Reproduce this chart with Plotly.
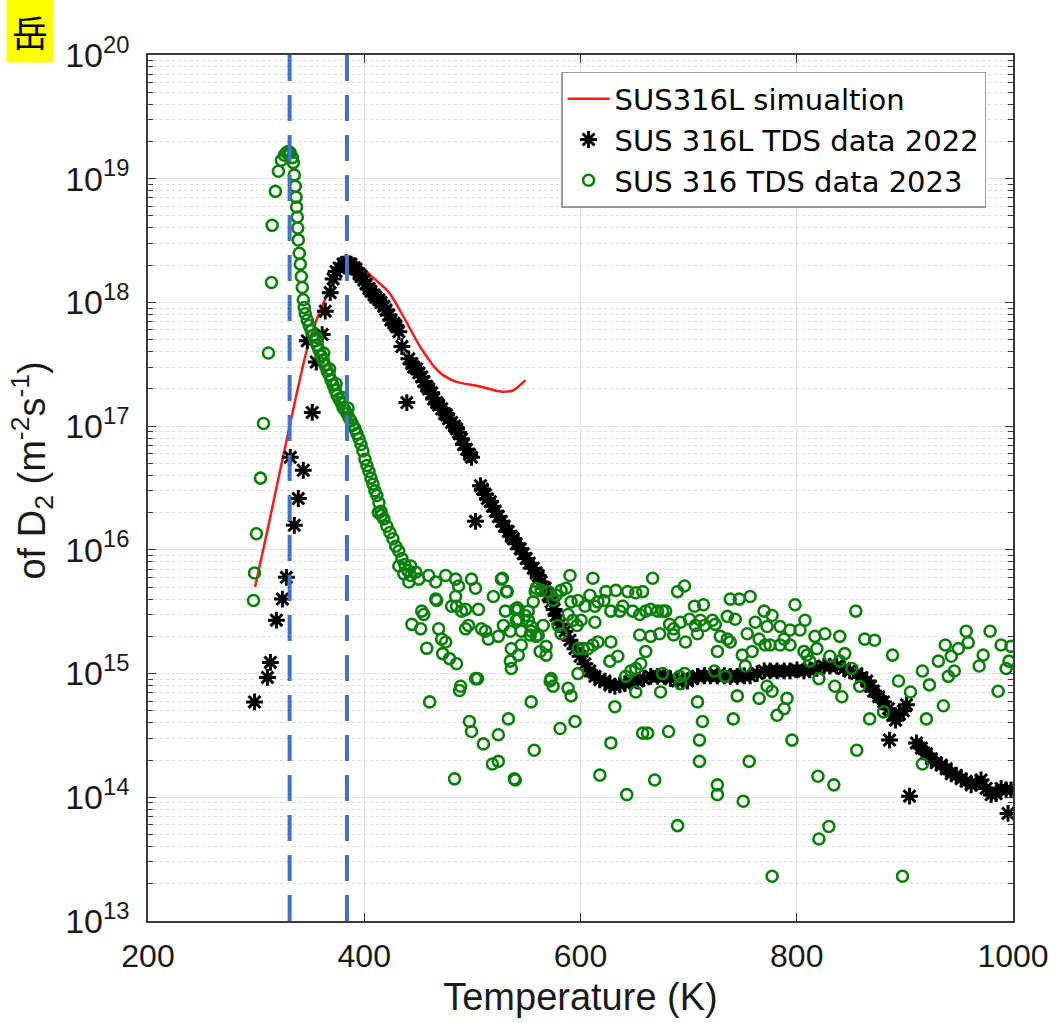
import plotly.graph_objects as go

# ---- simulation curve (K, m^-2 s^-1) ----
sim_T = [299, 312, 331, 349, 365, 377, 388, 397, 407, 423, 438, 453, 469, 484, 506, 527, 538, 549]
sim_flux = [5.0e15, 1.66e16, 1.0e17, 4.8e17, 1.12e18, 1.74e18, 2.04e18, 1.95e18, 1.62e18, 1.2e18,
            7.2e17, 4.2e17, 2.75e17, 2.3e17, 2.1e17, 1.9e17, 1.95e17, 2.35e17]

# ---- TDS 2022 (SUS 316L) ----
tds2022 = [
    (298.5, 5.9e14), (310.5, 9.3e14), (313.2, 1.23e15), (318.8, 2.7e15), (324.3, 4.0e15), (328.0, 6.0e15),
    (331.6, 5.6e16), (335.3, 1.58e16), (339.0, 2.6e16), (343.6, 4.4e16), (351.9, 1.29e17), (355.6, 3.3e17),
    (347.3, 4.9e17), (361.1, 5.5e17), (363.9, 8.5e17), (368.5, 1.2e18), (371.2, 1.55e18), (374.0, 1.78e18),
    (376.8, 1.9e18), (380.4, 2.04e18), (383.2, 2.1e18), (386.0, 2.05e18), (387.8, 2.04e18), (390.6, 1.91e18),
    (392.4, 1.86e18), (395.2, 1.70e18), (397.0, 1.62e18), (399.8, 1.51e18), (401.6, 1.41e18), (404.4, 1.29e18),
    (406.2, 1.23e18), (409.0, 1.15e18), (410.8, 1.1e18), (413.6, 1.05e18), (415.4, 1.0e18), (418.2, 9.3e17),
    (420.0, 8.7e17), (422.8, 7.9e17), (424.6, 7.2e17), (427.4, 6.8e17), (429.2, 6.5e17), (432.0, 5.8e17),
    (434.8, 4.4e17), (439.4, 1.55e17), (441.2, 3.5e17), (444.0, 3.2e17), (445.8, 3.0e17), (448.6, 2.9e17),
    (450.4, 2.7e17), (453.2, 2.5e17), (455.0, 2.3e17), (457.8, 2.1e17), (459.6, 2.0e17), (462.4, 1.86e17),
    (464.2, 1.66e17), (467.0, 1.55e17), (468.8, 1.48e17), (471.6, 1.38e17), (474.3, 1.26e17), (476.2, 1.23e17),
    (478.0, 1.15e17), (480.8, 1.07e17), (483.5, 1.0e17), (485.4, 9.5e16), (487.2, 8.9e16), (490.0, 7.9e16),
    (491.8, 7.1e16), (494.6, 6.5e16), (497.4, 5.9e16), (499.2, 5.6e16), (502.9, 1.7e16), (507.5, 3.3e16),
    (509.3, 3.1e16), (512.1, 2.8e16), (513.9, 2.6e16), (516.7, 2.45e16), (518.5, 2.25e16), (521.3, 2.05e16),
    (524.0, 1.86e16), (526.8, 1.7e16), (529.6, 1.55e16), (533.3, 1.41e16), (536.0, 1.29e16), (537.9, 1.23e16),
    (540.6, 1.12e16), (544.3, 1.02e16), (547.1, 9.3e15), (549.8, 8.5e15), (552.6, 7.8e15), (556.3, 7.1e15),
    (559.0, 6.5e15), (560.9, 6.2e15), (563.6, 5.5e15), (567.3, 4.9e15), (570.1, 4.3e15), (572.8, 3.8e15),
    (575.6, 3.3e15), (577.4, 2.95e15), (581.1, 2.5e15), (585.7, 2.2e15), (590.3, 1.86e15), (594.9, 1.59e15),
    (599.5, 1.38e15), (604.1, 1.2e15), (608.7, 1.05e15), (613.3, 9.5e14), (617.9, 8.9e14), (622.6, 8.7e14),
    (627.2, 8.1e14), (631.8, 7.9e14), (636.4, 8.1e14), (641.0, 8.3e14), (646.5, 8.5e14), (652.9, 8.7e14),
    (658.5, 9.1e14), (664.9, 9.5e14), (671.4, 9.5e14), (677.8, 9.5e14), (683.3, 9.1e14), (689.8, 8.7e14),
    (694.4, 8.7e14), (698.9, 8.7e14), (703.6, 9.1e14), (708.2, 9.5e14), (714.6, 9.6e14), (720.1, 9.6e14),
    (726.6, 9.6e14), (733.0, 9.6e14), (738.5, 9.5e14), (745.0, 9.5e14), (751.4, 9.6e14), (756.9, 9.6e14),
    (763.4, 1.0e15), (769.8, 1.05e15), (775.4, 1.05e15), (781.8, 1.05e15), (788.3, 1.05e15), (793.8, 1.05e15),
    (800.2, 1.07e15), (806.7, 1.05e15), (812.2, 1.07e15), (818.6, 1.1e15), (825.1, 1.15e15), (830.6, 1.15e15),
    (837.0, 1.15e15), (843.5, 1.1e15), (849.0, 1.05e15), (855.5, 1.0e15), (860.1, 9.3e14), (864.7, 8.7e14),
    (868.3, 7.9e14), (871.1, 7.2e14), (875.7, 6.5e14), (880.3, 5.9e14), (884.9, 5.2e14), (888.6, 4.6e14),
    (891.4, 4.2e14), (895.0, 4.7e14), (898.7, 5.0e14), (901.5, 5.6e14), (885.8, 2.9e14), (904.3, 1.02e14),
    (910.7, 2.75e14), (915.3, 2.5e14), (919.9, 2.25e14), (924.5, 2.05e14), (929.1, 1.9e14), (933.7, 1.82e14),
    (938.3, 1.7e14), (942.9, 1.55e14), (947.5, 1.51e14), (952.1, 1.41e14), (956.7, 1.35e14), (961.3, 1.26e14),
    (965.9, 1.3e14), (970.5, 1.38e14), (975.1, 1.18e14), (979.8, 1.05e14), (984.4, 1.07e14), (989.0, 1.18e14),
    (993.6, 1.15e14), (998.2, 1.15e14), (995.4, 7.4e13),
]

# ---- TDS 2023 (SUS 316) ----
tds2023 = [
    # rising edge and main peak
    (297.6, 3.9e15), (298.5, 6.5e15), (300.3, 1.35e16), (304.0, 3.8e16), (306.8, 1.05e17), (311.4, 3.9e17),
    (314.2, 1.45e18), (314.8, 4.2e18), (317.8, 7.9e18), (320.6, 1.15e19), (323.4, 1.41e19), (326.1, 1.55e19),
    (328.0, 1.62e19), (329.8, 1.66e19), (331.6, 1.62e19), (333.5, 1.48e19), (334.4, 1.35e19),
    # falling edge
    (335.3, 1.07e19), (336.2, 8.7e18), (337.0, 7.1e18), (337.4, 5.9e18), (338.1, 4.9e18), (338.5, 4.0e18),
    (339.0, 3.2e18), (339.9, 2.5e18), (340.9, 2.04e18), (341.8, 1.62e18), (342.7, 1.32e18), (343.6, 1.05e18),
    (344.5, 9.1e17), (345.5, 8.1e17), (347.3, 7.2e17), (349.1, 6.5e17), (351.0, 5.9e17), (352.8, 5.4e17),
    (354.7, 4.9e17), (356.5, 4.5e17), (358.3, 4.1e17), (360.2, 3.7e17), (362.0, 3.4e17), (363.9, 3.1e17),
    (365.7, 2.8e17), (367.5, 2.6e17), (369.4, 2.35e17), (371.2, 2.15e17), (373.1, 1.95e17), (374.9, 1.78e17),
    (376.8, 1.66e17), (378.6, 1.55e17), (380.4, 1.41e17), (382.3, 1.35e17), (384.1, 1.26e17), (386.0, 1.17e17),
    (387.8, 1.1e17), (389.6, 1.02e17), (391.5, 9.5e16), (393.3, 8.7e16), (395.2, 7.9e16), (397.0, 7.1e16),
    (398.8, 6.3e16), (400.7, 5.4e16), (402.5, 4.8e16), (404.4, 4.3e16), (406.2, 3.8e16), (408.1, 3.4e16),
    (409.9, 3.0e16), (411.7, 2.75e16), (413.6, 2.4e16), (415.4, 2.05e16), (418.2, 1.78e16), (420.9, 1.55e16),
    (423.7, 1.38e16), (426.5, 1.23e16), (429.2, 1.07e16), (432.0, 9.8e15), (434.8, 8.5e15), (437.5, 7.6e15),
    (440.3, 6.8e15), (443.0, 6.2e15),
    (356.0, 5.2e17), (362.5, 3.9e17), (368.0, 2.9e17), (374.0, 2.2e17), (379.5, 1.7e17), (385.0, 1.4e17),
    (413.0, 2.0e16), (416.0, 1.9e16),
    # tail
    (432.0, 7.4e15), (436.6, 6.4e15), (443.0, 7.4e15), (447.6, 6.6e15), (441.2, 5.5e15), (450.4, 5.8e15),
    (459.6, 6.2e15), (466.1, 5.5e15), (475.3, 6.2e15), (484.5, 5.8e15), (487.2, 5.1e15), (499.2, 5.8e15),
    (502.9, 4.9e15), (526.8, 5.8e15), (531.4, 4.6e15), (519.4, 4.2e15), (484.5, 4.2e15), (467.0, 3.9e15),
    (453.2, 3.2e15), (480.8, 3.5e15), (493.7, 3.3e15), (505.6, 3.3e15), (542.5, 3.3e15), (530.5, 3.2e15),
    (444.0, 2.5e15), (452.2, 2.3e15), (455.0, 3.0e15), (466.1, 4.0e15), (468.8, 2.3e15), (471.6, 1.9e15),
    (475.3, 1.8e15), (485.4, 3.5e15), (490.0, 3.2e15), (493.7, 2.3e15), (496.4, 2.45e15), (508.4, 2.3e15),
    (512.1, 2.2e15), (514.8, 1.9e15), (524.0, 2.0e15), (539.7, 3.3e15), (542.5, 2.75e15), (545.2, 2.2e15),
    (551.7, 3.2e15), (554.4, 2.2e15), (558.1, 4.6e15), (559.0, 2.0e15), (457.8, 1.6e15), (472.5, 1.45e15),
    (478.9, 1.32e15), (485.4, 1.2e15), (489.1, 7.9e14), (488.1, 7.3e14), (460.5, 5.9e14), (497.3, 4.1e14),
    (499.2, 3.4e14), (510.2, 2.7e14), (518.5, 1.86e14), (483.5, 1.41e14), (538.8, 1.41e14), (503.0, 9.1e14),
    (504.7, 9.1e14),
    (527.7, 5.9e15), (532.3, 4.6e15), (528.7, 2.45e15), (535.1, 2.2e15), (541.5, 3.4e15), (548.9, 2.95e15),
    (540.6, 2.7e15), (551.7, 2.7e15), (554.4, 2.4e15), (556.3, 3.8e15), (559.0, 4.9e15), (563.6, 4.7e15),
    (565.5, 2.45e15), (560.9, 2.05e15), (553.5, 2.05e15), (536.0, 1.59e15), (545.2, 1.7e15), (542.5, 1.41e15),
    (535.1, 1.26e15), (536.0, 1.1e15), (568.2, 1.66e15), (562.7, 1.51e15), (568.2, 1.41e15), (572.8, 9.1e14),
    (574.7, 7.9e14), (571.9, 8.7e14), (554.4, 5.9e14), (533.3, 4.3e14), (524.0, 3.2e14), (557.2, 2.4e14),
    (539.7, 1.38e14), (524.0, 1.95e14), (570.1, 4.6e15), (577.4, 4.3e15), (582.0, 4.7e15), (586.7, 4.9e15),
    (590.3, 6.2e15), (574.7, 3.9e15), (579.3, 2.45e15), (582.0, 2.1e15), (588.5, 3.0e15), (593.1, 2.7e15),
    (591.3, 3.8e15), (597.7, 3.9e15), (596.8, 2.45e15), (600.5, 2.7e15), (604.1, 3.5e15), (608.7, 4.3e15),
    (611.5, 5.9e15), (613.3, 3.5e15), (616.1, 3.8e15), (621.6, 3.9e15), (623.5, 4.6e15), (632.7, 4.7e15),
    (628.1, 3.2e15), (636.4, 3.2e15), (639.1, 3.5e15), (643.7, 4.6e15), (648.3, 3.2e15), (651.1, 4.5e15),
    (654.8, 3.0e15), (657.5, 4.6e15), (660.3, 3.2e15), (664.9, 3.3e15), (666.7, 5.9e15), (671.3, 3.2e15),
    (675.9, 3.2e15), (678.7, 3.2e15), (597.7, 1.59e15), (602.3, 1.59e15), (606.9, 1.59e15), (611.5, 1.7e15),
    (616.1, 1.8e15), (597.7, 1.0e15), (588.5, 7.6e14), (591.3, 6.6e14), (581.1, 3.6e14), (594.9, 4.1e14),
    (613.3, 2.6e15), (628.1, 1.8e15), (627.2, 1.26e15), (634.5, 1.38e15), (631.8, 5.4e14), (628.1, 2.75e14),
    (617.9, 1.51e14), (641.9, 9.5e14), (646.5, 1.05e15), (651.1, 1.1e15), (655.7, 1.2e15), (651.1, 7.1e14),
    (654.8, 2.05e15), (660.3, 1.51e15), (664.9, 2.0e15), (673.2, 2.1e15), (675.9, 1.0e15), (674.1, 7.1e14),
    (657.5, 3.3e14), (662.1, 3.3e14), (681.5, 3.4e14), (668.6, 1.38e14), (642.8, 1.05e14), (682.4, 2.5e15),
    (686.1, 2.05e15), (686.1, 2.3e15), (689.8, 4.6e15), (696.2, 5.1e15), (692.5, 2.6e15), (697.1, 1.8e15),
    (700.8, 2.75e15), (705.4, 3.5e15), (706.3, 2.45e15), (710.9, 2.7e15), (708.2, 2.1e15), (713.7, 3.6e15),
    (714.6, 2.45e15), (722.0, 2.7e15), (724.7, 2.5e15), (726.6, 1.51e15), (729.3, 2.0e15), (735.8, 2.9e15),
    (738.5, 4.0e15), (743.1, 2.75e15), (746.8, 4.0e15), (756.9, 4.2e15), (723.8, 1.05e15), (733.9, 9.5e14),
    (735.8, 1.9e15), (738.5, 1.8e15), (692.5, 8.3e14), (691.6, 9.5e14), (696.2, 1.0e15), (708.2, 5.9e14),
    (712.8, 4.1e14), (710.0, 2.9e14), (710.0, 1.95e14), (689.8, 5.9e13), (726.6, 1.26e14), (726.6, 1.05e14),
    (741.3, 4.3e14), (745.0, 6.6e14), (750.5, 9.3e13), (756.0, 1.95e14), (752.4, 1.15e15), (749.6, 1.41e15),
    (758.8, 1.51e15), (754.2, 2.1e15), (761.6, 2.6e15), (765.2, 1.9e15), (769.8, 3.2e15), (772.6, 2.4e15),
    (770.8, 1.7e15), (775.4, 1.7e15), (777.2, 2.95e15), (784.6, 2.4e15), (793.8, 2.25e15), (798.4, 3.6e15),
    (803.0, 2.25e15), (807.6, 2.7e15), (784.6, 1.7e15), (793.8, 1.7e15), (788.3, 1.9e15), (765.2, 6.3e14),
    (772.6, 7.9e14), (777.2, 7.2e14), (781.8, 4.6e14), (788.3, 5.2e14), (791.0, 6.3e14), (795.6, 2.9e14),
    (777.2, 2.3e13), (806.7, 1.51e15), (809.4, 1.41e15), (812.2, 1.26e15), (816.8, 2.0e15), (818.6, 1.59e15),
    (826.0, 2.1e15), (830.6, 1.38e15), (839.8, 2.0e15), (844.4, 1.45e15), (839.8, 1.26e15), (820.5, 9.1e14),
    (835.2, 7.9e14), (841.7, 6.5e14), (854.6, 3.2e15), (862.8, 1.9e15), (872.0, 1.86e15), (850.9, 1.1e15),
    (858.2, 7.9e14), (867.4, 4.3e14), (880.3, 4.9e14), (855.5, 2.4e14), (819.6, 1.48e14), (834.3, 1.26e14),
    (829.7, 5.8e13), (820.5, 4.6e13), (888.6, 1.41e15), (894.1, 8.7e14), (905.2, 7.1e14), (916.2, 1.05e15),
    (922.7, 8.1e14), (919.9, 4.3e14), (916.2, 1.86e14), (897.8, 2.3e13), (931.0, 1.26e15), (937.4, 1.7e15),
    (935.6, 5.5e14), (942.9, 1.38e15), (940.2, 9.5e14), (945.7, 1.05e15), (949.4, 1.59e15), (956.7, 2.2e15),
    (958.6, 1.78e15), (968.7, 1.15e15), (972.4, 1.41e15), (978.8, 2.2e15), (986.2, 7.2e14), (989.0, 1.7e15),
    (998.2, 1.66e15), (993.6, 1.1e15), (996.3, 1.26e15),
]

# Peak positions marked with dashed guides (K)
peak_T = [331, 384]

x_ticks = [200, 400, 600, 800, 1000]
y_exponents = [13, 14, 15, 16, 17, 18, 19, 20]

tds2022_T = [p[0] for p in tds2022]
tds2022_flux = [p[1] for p in tds2022]
tds2023_T = [p[0] for p in tds2023]
tds2023_flux = [p[1] for p in tds2023]

BASE_FONT = "Liberation Sans, Arial, sans-serif"

fig = go.Figure()

fig.add_trace(go.Scatter(
    x=sim_T, y=sim_flux, mode="lines", name="SUS316L simualtion",
    line=dict(color="#ff1a1a", width=2.5, shape="spline", smoothing=0.8),
))
fig.add_trace(go.Scatter(
    x=tds2022_T, y=tds2022_flux, mode="markers", name="SUS 316L TDS data 2022",
    marker=dict(symbol="asterisk-open", size=14, color="black",
                line=dict(color="black", width=3)),
))
fig.add_trace(go.Scatter(
    x=tds2023_T, y=tds2023_flux, mode="markers", name="SUS 316 TDS data 2023",
    marker=dict(symbol="circle-open", size=11, color="#0a800a",
                line=dict(color="#0a800a", width=2.6)),
))

# Dashed guide lines at the two peak temperatures
y_lo, y_hi = 10.0 ** y_exponents[0], 10.0 ** y_exponents[-1]
for t in peak_T:
    fig.add_trace(go.Scatter(
        x=[t, t], y=[y_lo, y_hi], mode="lines",
        line=dict(color="#4472c4", width=4, dash="26px,14px"),
        showlegend=False, hoverinfo="skip",
    ))

axis_common = dict(
    showline=True, linecolor="#3a3a3a", linewidth=1.5, mirror="ticks",
    ticks="inside", tickcolor="#3a3a3a", ticklen=8, tickwidth=1.2,
    showgrid=True, gridcolor="#e3e3e3", gridwidth=1, zeroline=False,
)

fig.update_xaxes(
    range=[200, 1000], tickvals=x_ticks, ticktext=[str(v) for v in x_ticks],
    tickfont=dict(family=BASE_FONT, size=32, color="#1a1a1a"),
    ticklabelstandoff=6,
    title=dict(text="Temperature (K)", font=dict(family=BASE_FONT, size=38, color="#1a1a1a"), standoff=10),
    **axis_common,
)
fig.update_yaxes(
    type="log", range=[13, 20],
    tickvals=[10.0 ** e for e in y_exponents],
    ticktext=["10<sup>%d</sup>" % e for e in y_exponents],
    tickfont=dict(family=BASE_FONT, size=34, color="#1a1a1a"),
    ticklabelstandoff=10,
    minor=dict(dtick="D1", ticks="inside", ticklen=5, tickcolor="#3a3a3a",
               showgrid=True, gridcolor="#dadada", griddash="dot", gridwidth=1),
    **axis_common,
)

L, R, T, B = 148, 44, 55, 100
W, H = 1061, 1023
pw, ph = W - L - R, H - T - B

def px_x(p):
    return (p - L) / pw

def px_y(p):
    return (H - B - p) / ph

fig.add_annotation(
    text="of D<sub>2</sub> (m<sup>-2</sup>s<sup>-1</sup>)", textangle=-90,
    xref="paper", yref="paper", x=px_x(32), y=px_y(472), xanchor="center", yanchor="middle",
    showarrow=False, font=dict(family=BASE_FONT, size=38, color="#1a1a1a"),
)
fig.add_annotation(
    text="岳", xref="paper", yref="paper", x=px_x(29), y=px_y(31),
    xanchor="center", yanchor="middle", showarrow=False,
    font=dict(family="Noto Sans CJK JP", size=36, color="black"),
    bgcolor="#ffff00", borderpad=5,
)

fig.update_layout(
    width=W, height=H, margin=dict(l=L, r=R, t=T, b=B),
    paper_bgcolor="white", plot_bgcolor="white",
    legend=dict(
        x=px_x(563), y=px_y(72), xanchor="left", yanchor="top",
        bgcolor="white", bordercolor="#9a9a9a", borderwidth=1.5,
        font=dict(family="DejaVu Sans, Liberation Sans, sans-serif", size=29, color="black"),
        tracegroupgap=0, itemwidth=42,
    ),
    showlegend=True,
)

fig.write_html("out.html")
